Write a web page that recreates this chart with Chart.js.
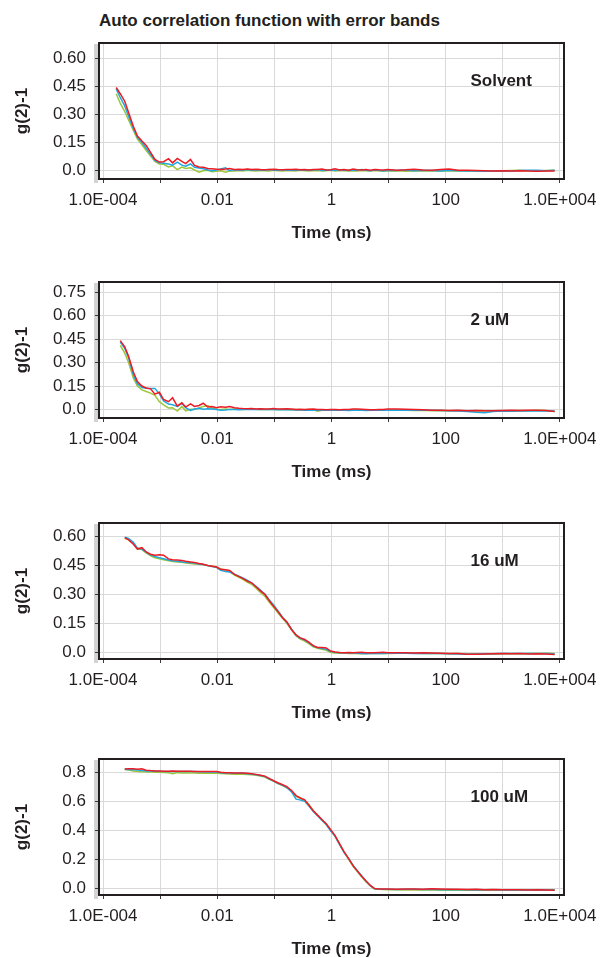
<!DOCTYPE html>
<html>
<head>
<meta charset="utf-8">
<title>Auto correlation function with error bands</title>
<script src="https://cdn.jsdelivr.net/npm/chart.js@4.4.1/dist/chart.umd.min.js"></script>
<style>
    html, body { margin: 0; padding: 0; background: #fff; overflow: hidden; }
    #page { position: relative; width: 600px; height: 958px; }
    #mainTitle {
        position: absolute; left: 99px; top: 11px;
        font: bold 17px 'Liberation Sans', Arial, sans-serif;
        line-height: 20px; color: #231f20; white-space: nowrap;
    }
    canvas { position: absolute; left: 0; }
</style>
</head>
<body>
<div id="page">
    <div id="mainTitle">Auto correlation function with error bands</div>
    <canvas id="solventChart" width="600" height="210" style="top:35px"></canvas>
    <canvas id="uM2Chart" width="600" height="210" style="top:274px"></canvas>
    <canvas id="uM16Chart" width="600" height="210" style="top:515px"></canvas>
    <canvas id="uM100Chart" width="600" height="210" style="top:751px"></canvas>
</div>
<script>
// Lag times (ms), shared by all panels
const lagTimes = [
    1.7e-4, 2.0e-4, 2.4e-4, 2.8e-4, 3.4e-4, 4.0e-4, 4.8e-4, 5.7e-4, 6.8e-4, 8.1e-4,
    9.7e-4, 1.15e-3, 1.4e-3, 1.65e-3, 2.0e-3, 2.4e-3, 2.8e-3, 3.4e-3, 4.0e-3, 4.8e-3,
    5.7e-3, 6.8e-3, 8.1e-3, 9.7e-3, 0.0115, 0.014, 0.0165, 0.02, 0.024, 0.028,
    0.034, 0.04, 0.048, 0.057, 0.068, 0.081, 0.097, 0.115, 0.14, 0.165,
    0.2, 0.24, 0.28, 0.34, 0.4, 0.48, 0.57, 0.68, 0.81, 0.97,
    1.15, 1.4, 1.65, 2.0, 2.4, 2.8, 3.4, 4.0, 4.8, 5.7,
    6.8, 8.1, 9.7, 14, 20, 28, 40, 57, 81, 115,
    165, 240, 340, 480, 680, 970, 1400, 2000, 2800, 4000,
    5700, 8100
];

// Solvent
const solventRed = [
    0.443, 0.41, 0.37, 0.31, 0.235, 0.185, 0.158, 0.135, 0.098, 0.06,
    0.046, 0.048, 0.064, 0.042, 0.066, 0.05, 0.038, 0.06, 0.028, 0.02,
    0.018, 0.012, 0.01, 0.008, 0.006, 0.009, 0.012, 0.007, 0.008, 0.006,
    0.009, 0.007, 0.008, 0.006, 0.005, 0.007, 0.008, 0.006, 0.005, 0.007,
    0.006, 0.008, 0.005, 0.006, 0.004, 0.007, 0.006, 0.009, 0.004, 0.005,
    0.01, 0.004, 0.006, 0.003, 0.009, 0.005, 0.004, 0.006, 0.003, 0.007,
    0.005, 0.004, 0.006, 0.003, 0.005, 0.008, 0.004, 0.002, 0.006, 0.009,
    0.002, 0.003, 0.001, 0.0, -0.001, 0.0, -0.002, 0.0, -0.001, -0.003,
    -0.002, -0.001
];
const solventBlue = [
    0.435, 0.39, 0.345, 0.29, 0.225, 0.178, 0.15, 0.12, 0.088, 0.055,
    0.043, 0.04, 0.036, 0.03, 0.046, 0.03, 0.024, 0.036, 0.018, 0.014,
    0.01, 0.004, 0.0, 0.004, 0.01, 0.016, 0.0, 0.005, 0.002, 0.004,
    0.006, 0.003, 0.005, 0.004, 0.003, 0.006, 0.004, 0.002, 0.005, 0.003,
    0.004, 0.002, 0.005, 0.003, 0.002, 0.004, 0.006, 0.001, 0.003, 0.004,
    0.002, 0.005, 0.003, 0.001, 0.004, 0.002, 0.006, 0.003, 0.0, 0.004,
    0.002, -0.001, 0.003, 0.001, 0.004, 0.0, 0.003, 0.001, -0.001, 0.002,
    0.0, -0.002, -0.001, -0.003, -0.002, 0.0, -0.001, 0.001, 0.003, 0.002,
    0.0, 0.003
];
const solventGreen = [
    0.41, 0.36, 0.315, 0.27, 0.215, 0.168, 0.138, 0.108, 0.078, 0.05,
    0.036, 0.034, 0.02, 0.026, 0.006, 0.02, 0.012, 0.016, 0.004, -0.008,
    0.0, 0.003, -0.005, -0.003, 0.0, -0.008, 0.0, -0.002, 0.001, -0.001,
    0.002, 0.0, -0.002, 0.001, 0.0, -0.001, 0.002, 0.0, -0.002, 0.001,
    0.0, -0.001, 0.002, 0.0, -0.002, 0.0, 0.001, -0.001, 0.0, 0.002,
    -0.002, 0.0, 0.001, -0.001, 0.0, -0.002, 0.001, 0.0, -0.001, 0.001,
    -0.002, 0.0, -0.001, 0.0, -0.003, -0.001, 0.0, -0.002, -0.001, 0.0,
    -0.002, -0.001, 0.0, -0.001, -0.002, 0.0, 0.001, 0.002, 0.0, -0.001,
    0.001, 0.003
];

// 2 uM
const uM2Red = [
    null, 0.44, 0.40, 0.34, 0.24, 0.178, 0.15, 0.137, 0.132, 0.098,
    0.11, 0.064, 0.05, 0.075, 0.022, 0.043, 0.016, 0.036, 0.02, 0.026,
    0.04, 0.016, 0.02, 0.012, 0.018, 0.014, 0.02, 0.012, 0.008, 0.006,
    0.005, 0.006, 0.004, 0.005, 0.003, 0.004, 0.006, 0.004, 0.003, 0.005,
    0.003, 0.001, 0.002, 0.0, 0.002, 0.003, 0.001, 0.0, -0.001, 0.001,
    0.0, -0.002, 0.001, 0.0, 0.003, 0.004, 0.002, 0.0, -0.002, -0.001,
    0.0, 0.001, 0.003, 0.004, 0.002, 0.0, -0.002, -0.004, -0.005, -0.006,
    -0.005, -0.007, -0.006, -0.008, -0.007, -0.006, -0.005, -0.006, -0.004, -0.005,
    -0.006, -0.012
];
const uM2Blue = [
    null, 0.43, 0.39, 0.33, 0.22, 0.165, 0.14, 0.136, 0.135, 0.135,
    0.1, 0.055, 0.035, 0.03, 0.02, 0.04, 0.012, -0.005, 0.003, 0.008,
    0.002, 0.005, 0.004, 0.0, -0.004, -0.003, 0.001, 0.0, -0.002, 0.0,
    0.002, 0.0, 0.001, 0.002, 0.0, 0.001, 0.0, -0.001, 0.0, -0.002,
    -0.001, -0.003, -0.002, -0.004, -0.005, -0.004, -0.003, -0.004, -0.003, -0.005,
    -0.004, -0.005, -0.004, -0.006, -0.005, -0.004, -0.005, -0.006, -0.004, -0.005,
    -0.003, -0.004, -0.005, -0.004, -0.003, -0.005, -0.004, -0.005, -0.006, -0.008,
    -0.01, -0.012, -0.018, -0.02, -0.012, -0.01, -0.011, -0.01, -0.009, -0.01,
    -0.01, -0.01
];
const uM2Green = [
    null, 0.41, 0.36, 0.30, 0.2, 0.15, 0.125, 0.115, 0.105, 0.09,
    0.05, 0.03, 0.01, 0.012, -0.01, 0.02, -0.008, 0.002, 0.0, 0.01,
    0.02, 0.025, 0.01, 0.002, 0.0, 0.003, 0.0, 0.004, 0.002, 0.0,
    0.003, 0.005, 0.002, 0.001, 0.0, 0.002, 0.001, 0.0, 0.002, 0.0,
    -0.001, 0.0, -0.002, -0.001, 0.0, -0.002, -0.01, -0.004, -0.003, -0.002,
    -0.003, -0.002, -0.004, -0.003, -0.002, -0.003, -0.001, -0.002, -0.004, -0.003,
    -0.002, -0.004, -0.005, -0.003, -0.004, -0.006, -0.005, -0.007, -0.006, -0.008,
    -0.007, -0.009, -0.01, -0.008, -0.009, -0.007, -0.008, -0.006, -0.007, -0.005,
    -0.006, -0.012
];

// 16 uM
const uM16Red = [
    null, null, 0.594, 0.582, 0.56, 0.535, 0.542, 0.52, 0.508, 0.503,
    0.505, 0.503, 0.484, 0.48, 0.478, 0.476, 0.472, 0.468, 0.465, 0.46,
    0.456, 0.45, 0.446, 0.442, 0.43, 0.428, 0.424, 0.404, 0.392, 0.383,
    0.368, 0.36, 0.338, 0.318, 0.3, 0.268, 0.238, 0.212, 0.178, 0.158,
    0.118, 0.09, 0.076, 0.066, 0.052, 0.034, 0.025, 0.024, 0.022, 0.006,
    0.001, -0.001, -0.002, -0.001, -0.003, -0.001, 0.0, -0.002, -0.003, -0.002,
    -0.001, 0.0, -0.002, -0.003, -0.002, -0.004, -0.003, -0.004, -0.005, -0.006,
    -0.006, -0.01, -0.011, -0.009, -0.008, -0.007, -0.008, -0.007, -0.009, -0.008,
    -0.009, -0.012
];
const uM16Blue = [
    null, null, 0.596, 0.59, 0.57, 0.54, 0.535, 0.518, 0.505, 0.496,
    0.49, 0.485, 0.478, 0.474, 0.472, 0.468, 0.466, 0.464, 0.462, 0.458,
    0.455, 0.45, 0.444, 0.44, 0.425, 0.418, 0.416, 0.405, 0.394, 0.385,
    0.372, 0.36, 0.342, 0.322, 0.302, 0.272, 0.245, 0.215, 0.18, 0.155,
    0.12, 0.088, 0.074, 0.063, 0.05, 0.032, 0.024, 0.02, 0.015, 0.004,
    0.0, -0.002, -0.003, -0.004, -0.003, -0.005, -0.006, -0.008, -0.007, -0.006,
    -0.005, -0.006, -0.005, -0.004, -0.005, -0.006, -0.005, -0.006, -0.007, -0.008,
    -0.009, -0.01, -0.009, -0.008, -0.008, -0.007, -0.006, -0.007, -0.006, -0.007,
    -0.006, -0.008
];
const uM16Green = [
    null, null, 0.59, 0.585, 0.565, 0.535, 0.532, 0.515, 0.5, 0.49,
    0.485, 0.48, 0.474, 0.47, 0.468, 0.466, 0.463, 0.46, 0.458, 0.456,
    0.453, 0.449, 0.446, 0.443, 0.432, 0.425, 0.418, 0.4, 0.388, 0.378,
    0.362, 0.352, 0.332, 0.31, 0.29, 0.26, 0.232, 0.205, 0.175, 0.15,
    0.115, 0.085, 0.07, 0.058, 0.045, 0.028, 0.02, 0.015, 0.01, -0.002,
    -0.004, -0.005, -0.004, -0.006, -0.007, -0.006, -0.008, -0.007, -0.006, -0.007,
    -0.006, -0.005, -0.006, -0.005, -0.004, -0.005, -0.006, -0.005, -0.007, -0.008,
    -0.007, -0.009, -0.008, -0.01, -0.009, -0.008, -0.007, -0.008, -0.006, -0.007,
    -0.005, -0.006
];

// 100 uM
const uM100Red = [
    null, null, 0.823, 0.824, 0.825, 0.822, 0.824, 0.815, 0.812, 0.81,
    0.809, 0.808, 0.808, 0.809, 0.808, 0.807, 0.808, 0.807, 0.806, 0.806,
    0.806, 0.806, 0.805, 0.805, 0.8, 0.798, 0.797, 0.796, 0.795, 0.795,
    0.793, 0.79, 0.786, 0.78, 0.774, 0.758, 0.742, 0.728, 0.714, 0.702,
    0.675, 0.64, 0.625, 0.61, 0.575, 0.535, 0.505, 0.475, 0.445, 0.405,
    0.365, 0.305, 0.255, 0.205, 0.155, 0.122, 0.082, 0.052, 0.02, -0.002,
    -0.004, -0.005, -0.004, -0.006, -0.005, -0.004, -0.006, -0.003, -0.004, -0.007,
    -0.006, -0.008, -0.007, -0.009, -0.008, -0.01, -0.009, -0.01, -0.011, -0.01,
    -0.012, -0.013
];
const uM100Blue = [
    null, null, 0.822, 0.82, 0.818, 0.816, 0.812, 0.81, 0.81, 0.808,
    0.807, 0.806, 0.806, 0.806, 0.805, 0.805, 0.806, 0.805, 0.805, 0.804,
    0.804, 0.803, 0.803, 0.802, 0.798, 0.796, 0.795, 0.794, 0.794, 0.793,
    0.791, 0.788, 0.784, 0.778, 0.772, 0.755, 0.74, 0.725, 0.71, 0.695,
    0.665, 0.615, 0.61, 0.6, 0.57, 0.53, 0.5, 0.47, 0.44, 0.395,
    0.36, 0.3, 0.25, 0.205, 0.158, 0.125, 0.085, 0.05, 0.018, -0.003,
    -0.006, -0.007, -0.006, -0.008, -0.007, -0.006, -0.008, -0.007, -0.009, -0.008,
    -0.01, -0.009, -0.011, -0.01, -0.009, -0.011, -0.01, -0.012, -0.011, -0.01,
    -0.012, -0.011
];
const uM100Green = [
    null, null, 0.82, 0.816, 0.81, 0.806, 0.804, 0.803, 0.802, 0.801,
    0.8, 0.799, 0.797, 0.79, 0.798, 0.795, 0.797, 0.796, 0.795, 0.794,
    0.795, 0.794, 0.794, 0.793, 0.792, 0.79, 0.788, 0.787, 0.787, 0.786,
    0.785, 0.783, 0.78, 0.774, 0.768, 0.752, 0.74, 0.722, 0.708, 0.694,
    0.668, 0.635, 0.622, 0.605, 0.58, 0.535, 0.505, 0.47, 0.44, 0.4,
    0.36, 0.3, 0.25, 0.2, 0.15, 0.118, 0.078, 0.046, 0.016, -0.005,
    -0.007, -0.008, -0.01, -0.009, -0.011, -0.01, -0.012, -0.011, -0.013, -0.012,
    -0.014, -0.013, -0.012, -0.014, -0.013, -0.012, -0.011, -0.012, -0.01, -0.011,
    -0.01, -0.009
];

// Axis ticks
const xRange = [8.5e-5, 1.18e4];
const xTickValues = [1e-4, 1e-3, 1e-2, 1e-1, 1, 10, 100, 1000, 1e4];
const xTickLabels = ['1.0E-004', '', '0.01', '', '1', '', '100', '', '1.0E+004'];
const yTicks015 = [0, 0.15, 0.30, 0.45, 0.60];
const yLabels015 = ['0.0', '0.15', '0.30', '0.45', '0.60'];
const yTicks2uM = [0, 0.15, 0.30, 0.45, 0.60, 0.75];
const yLabels2uM = ['0.0', '0.15', '0.30', '0.45', '0.60', '0.75'];
const yTicks100uM = [0, 0.2, 0.4, 0.6, 0.8];
const yLabels100uM = ['0.0', '0.2', '0.4', '0.6', '0.8'];

// Styling
const fontFamily = "'Liberation Sans', Arial, sans-serif";
const textColor = '#231f20';
const gridColor = '#d9d9d9';
const tickColor = '#3a3a3a';
const seriesColors = ['#ec1c24', '#1ea7e1', '#9dc63b'];

// Frame around the plot area + grey strip behind the y ticks
const framePlugin = {
    id: 'frame',
    beforeDraw(chart) {
        const { ctx, chartArea: a } = chart;
        ctx.save();
        ctx.fillStyle = '#d3d3d3';
        ctx.fillRect(a.left - 5, a.top + 1, 4, a.bottom - a.top + 3);
        ctx.restore();
    },
    afterDatasetsDraw(chart) {
        const { ctx, chartArea: a } = chart;
        ctx.save();
        ctx.strokeStyle = textColor;
        ctx.lineWidth = 2;
        ctx.strokeRect(a.left, a.top, a.right - a.left, a.bottom - a.top);
        ctx.restore();
    }
};

// Sample name written inside the panel
const panelLabelPlugin = {
    id: 'panelLabel',
    afterDatasetsDraw(chart, args, opts) {
        const { ctx, chartArea: a } = chart;
        ctx.save();
        ctx.font = 'bold 17px ' + fontFamily;
        ctx.fillStyle = textColor;
        ctx.textAlign = 'left';
        ctx.textBaseline = 'alphabetic';
        ctx.fillText(opts.text, a.left + 371.5, a.top + 43);
        ctx.restore();
    }
};

function toPoints(values) {
    return values.map((v, i) => ({ x: lagTimes[i], y: v }));
}

function createPanel(canvasId, label, series, yRange, yTicks, yLabels) {
    const ctx = document.getElementById(canvasId).getContext('2d');
    const names = ['Run 1', 'Run 2', 'Run 3'];
    return new Chart(ctx, {
        type: 'line',
        data: {
            datasets: series.map((values, k) => ({
                label: names[k],
                data: toPoints(values),
                borderColor: seriesColors[k],
                borderWidth: 1.5,
                pointRadius: 0,
                tension: 0,
                fill: false,
            })),
        },
        options: {
            responsive: false,
            animation: false,
            layout: { padding: { top: 8, right: 36, bottom: 0, left: 0 } },
            plugins: {
                legend: { display: false },
                tooltip: { enabled: false },
                panelLabel: { text: label },
            },
            scales: {
                x: {
                    type: 'logarithmic',
                    min: xRange[0],
                    max: xRange[1],
                    afterBuildTicks: s => { s.ticks = xTickValues.map(v => ({ value: v })); },
                    afterFit: s => {
                        s.height = 66;
                        s.paddingLeft = 0;
                        s.paddingRight = 0;
                    },
                    ticks: {
                        autoSkip: false, maxRotation: 0, padding: 7,
                        color: textColor, font: { family: fontFamily, size: 17 },
                        callback: (v, i) => xTickLabels[i],
                    },
                    grid: { color: gridColor, tickColor: tickColor, tickLength: 4, lineWidth: 1 },
                    border: { display: false },
                    title: {
                        display: true, text: 'Time (ms)', color: textColor,
                        font: { family: fontFamily, size: 17, weight: 'bold' },
                        padding: { top: 0, bottom: 1 },
                    },
                },
                y: {
                    min: yRange[0],
                    max: yRange[1],
                    afterBuildTicks: s => { s.ticks = yTicks.map(v => ({ value: v })); },
                    afterFit: s => {
                        s.width = 99;
                        s.paddingTop = 0;
                        s.paddingBottom = 0;
                    },
                    ticks: {
                        autoSkip: false, padding: 9,
                        color: textColor, font: { family: fontFamily, size: 17 },
                        callback: (v, i) => yLabels[i],
                    },
                    grid: { color: gridColor, tickColor: tickColor, tickLength: 4, lineWidth: 1 },
                    border: { display: false },
                    title: {
                        display: true, text: 'g(2)-1', color: textColor,
                        font: { family: fontFamily, size: 17, weight: 'bold' },
                        padding: { top: 12, bottom: 0 },
                    },
                },
            },
        },
        plugins: [framePlugin, panelLabelPlugin],
    });
}

createPanel('solventChart', 'Solvent', [solventRed, solventBlue, solventGreen], [-0.044, 0.68], yTicks015, yLabels015);
createPanel('uM2Chart', '2 uM', [uM2Red, uM2Blue, uM2Green], [-0.054, 0.814], yTicks2uM, yLabels2uM);
createPanel('uM16Chart', '16 uM', [uM16Red, uM16Blue, uM16Green], [-0.035, 0.67], yTicks015, yLabels015);
createPanel('uM100Chart', '100 uM', [uM100Red, uM100Blue, uM100Green], [-0.046, 0.892], yTicks100uM, yLabels100uM);
</script>
</body>
</html>
